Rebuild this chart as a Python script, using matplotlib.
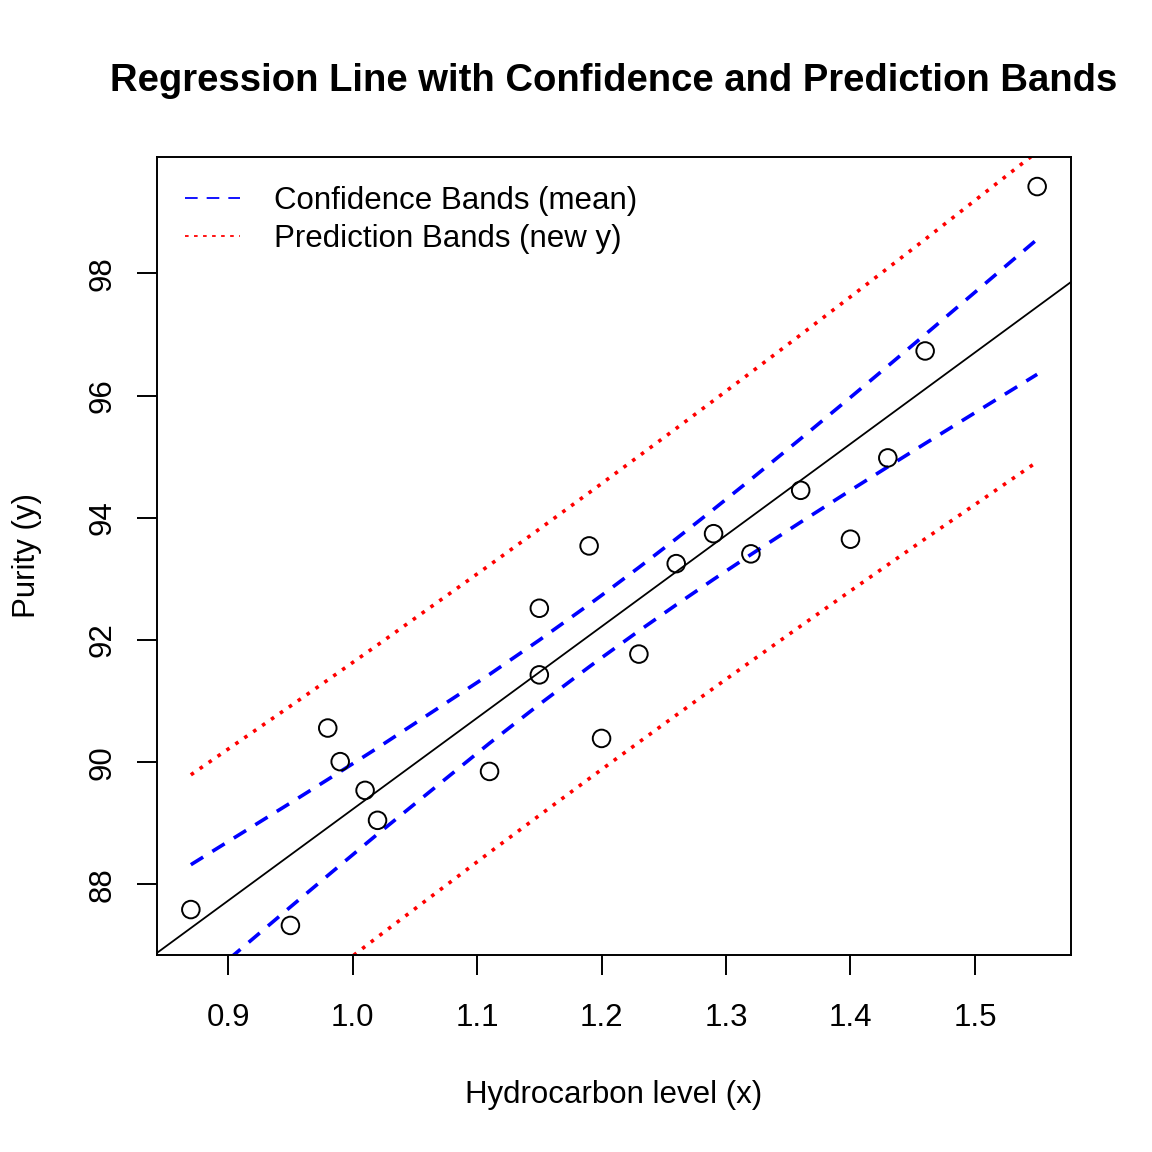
import numpy as np
import matplotlib
matplotlib.use('Agg')
import matplotlib.pyplot as plt
from matplotlib.lines import Line2D

# Du lieu: hydrocarbon level vs purity
hydrocarbon = [0.99, 1.02, 1.15, 1.29, 1.46, 1.36, 0.87, 1.23, 1.55, 1.40,
               1.19, 1.15, 0.98, 1.01, 1.11, 1.20, 1.26, 1.32, 1.43, 0.95]
purity = [90.01, 89.05, 91.43, 93.74, 96.73, 94.45, 87.59, 91.77, 99.42, 93.65,
          93.54, 92.52, 90.56, 89.54, 89.85, 90.39, 93.25, 93.41, 94.98, 87.33]
x_ticks = [0.9, 1.0, 1.1, 1.2, 1.3, 1.4, 1.5]
y_ticks = [88, 90, 92, 94, 96, 98]
t_crit = 2.100922  # t(0.975, df=18)

x = np.array(hydrocarbon)
y = np.array(purity)
n = len(x)

# Hoi quy tuyen tinh
b1, b0 = np.polyfit(x, y, 1)
resid = y - (b0 + b1 * x)
s = np.sqrt(np.sum(resid ** 2) / (n - 2))
sxx = np.sum((x - x.mean()) ** 2)

xs = np.sort(x)
fit = b0 + b1 * xs
se_mean = s * np.sqrt(1 / n + (xs - x.mean()) ** 2 / sxx)
se_pred = s * np.sqrt(1 + 1 / n + (xs - x.mean()) ** 2 / sxx)

plt.rcParams['font.family'] = ['Liberation Sans', 'DejaVu Sans']
fs = 22.5

fig = plt.figure(figsize=(11.52, 11.52), dpi=100)
ax = fig.add_axes([157 / 1152, 1 - 955 / 1152, (1071 - 157) / 1152, (955 - 157) / 1152])

xr = x.max() - x.min()
yr = y.max() - y.min()
ax.set_xlim(x.min() - 0.04 * xr, x.max() + 0.04 * xr)
ax.set_ylim(y.min() - 0.04 * yr, y.max() + 0.04 * yr)

ax.scatter(x, y, s=160, facecolors='none', edgecolors='black', linewidths=1.4, zorder=3)
ax.axline((0, b0), slope=b1, color='black', lw=1.3)

dash = (0, (4, 3))
dot = (0, (1, 2))
ax.plot(xs, fit + t_crit * se_mean, color='blue', ls=dash, lw=2.6)
ax.plot(xs, fit - t_crit * se_mean, color='blue', ls=dash, lw=2.6)
ax.plot(xs, fit + t_crit * se_pred, color='red', ls=dot, lw=2.6)
ax.plot(xs, fit - t_crit * se_pred, color='red', ls=dot, lw=2.6)

ax.set_xticks(x_ticks)
ax.set_xticklabels([f'{v:.1f}' for v in x_ticks])
ax.set_yticks(y_ticks)
ax.set_yticklabels([str(v) for v in y_ticks], rotation=90, va='center')
ax.tick_params(direction='out', length=14.5, width=1.4, labelsize=fs)
ax.tick_params(axis='x', pad=20)
ax.tick_params(axis='y', pad=14)
for sp in ax.spines.values():
    sp.set_linewidth(1.4)

ax.set_xlabel('Hydrocarbon level (x)', fontsize=fs, va='center')
ax.xaxis.set_label_coords(0.5, -(1095 - 955) / 798)
ax.set_ylabel('Purity (y)', fontsize=fs, va='center')
ax.yaxis.set_label_coords(-(157 - 27) / 914, 0.5)
fig.text(614 / 1152, 1 - 81 / 1152, 'Regression Line with Confidence and Prediction Bands',
         ha='center', va='center', fontsize=27.5, fontweight='bold')

# Chu thich (duong mong nhu trong R)
handles = [Line2D([], [], color='blue', lw=1.3, ls=(0, (7, 5))),
           Line2D([], [], color='red', lw=1.3, ls=(0, (2, 3)))]
labels = ['Confidence Bands (mean)', 'Prediction Bands (new y)']
ax.legend(handles, labels, loc='upper left', bbox_to_anchor=(28 / 914, 1 - 29 / 798),
          frameon=False, fontsize=fs, borderpad=0, borderaxespad=0,
          handlelength=1.76, handletextpad=1.09, labelspacing=0.26)

fig.savefig('out.png', dpi=100)
